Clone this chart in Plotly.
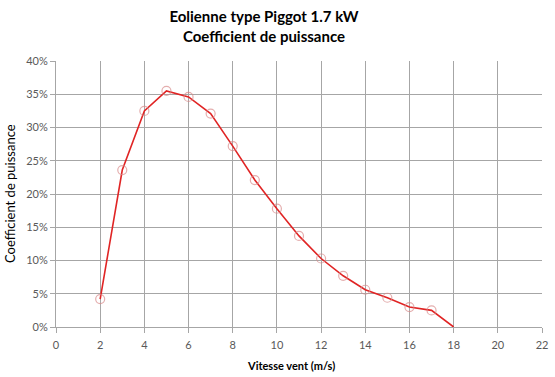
import plotly.graph_objects as go

vitesse = [2, 3, 4, 5, 6, 7, 8, 9, 10, 11, 12, 13, 14, 15, 16, 17, 18]
cp = [0.042, 0.236, 0.325, 0.355, 0.346, 0.321, 0.272, 0.221, 0.178, 0.137, 0.103, 0.077, 0.056, 0.044, 0.030, 0.025, 0.0]
marker_sizes = [9] * 16 + [0]

W, H = 555, 377
L, R, T, B = 56, 13, 61, 50
PW, PH = W - L - R, H - T - B

fig = go.Figure()
fig.add_trace(go.Scatter(
    x=vitesse, y=cp, mode="lines+markers",
    line=dict(color="#E02424", width=1.6),
    marker=dict(symbol="circle-open", size=marker_sizes, color="#D98C8C", line=dict(width=1.2)),
    showlegend=False, hoverinfo="x+y",
))

font = "Lato, Open Sans, sans-serif"
fig.update_layout(
    width=W, height=H,
    margin=dict(l=L, r=R, t=T, b=B, autoexpand=False),
    paper_bgcolor="white", plot_bgcolor="white",
    font=dict(family=font, color="#595959", size=11),
    title=dict(
        text="<b>Eolienne type Piggot 1.7 kW<br>Coefficient de puissance</b>",
        x=264 / W, xanchor="center", y=1 - 22 / H, yanchor="middle",
        font=dict(family=font, size=15, color="black"),
    ),
    xaxis=dict(
        range=[0, 22], dtick=2, tick0=0,
        showgrid=True, gridcolor="#A6A6A6", gridwidth=1,
        showline=True, linecolor="#A6A6A6", linewidth=1,
        ticks="outside", ticklen=5, tickcolor="#A6A6A6",
        ticklabelstandoff=3,
        zeroline=False, automargin=False,
    ),
    yaxis=dict(
        range=[0, 0.40], dtick=0.05, tickformat=".0%",
        showgrid=True, gridcolor="#A6A6A6", gridwidth=1,
        showline=True, linecolor="#A6A6A6", linewidth=1,
        ticks="outside", ticklen=5, tickcolor="#A6A6A6",
        zeroline=False, automargin=False,
    ),
    annotations=[
        dict(text="<b>Vitesse vent (m/s)</b>", xref="paper", yref="paper",
             x=(291 - L) / PW, y=-(365 - (H - B)) / PH,
             xanchor="center", yanchor="middle", showarrow=False,
             font=dict(family=font, size=11, color="black")),
        dict(text="Coefficient de puissance", xref="paper", yref="paper",
             x=-(L - 10) / PW, y=((H - B) - 194) / PH,
             xanchor="center", yanchor="middle", textangle=-90, showarrow=False,
             font=dict(family=font, size=13, color="black")),
    ],
)

fig.write_html("out.html", config={"displayModeBar": False},
               post_script="document.body.style.margin='0';document.body.style.overflow='hidden';")
